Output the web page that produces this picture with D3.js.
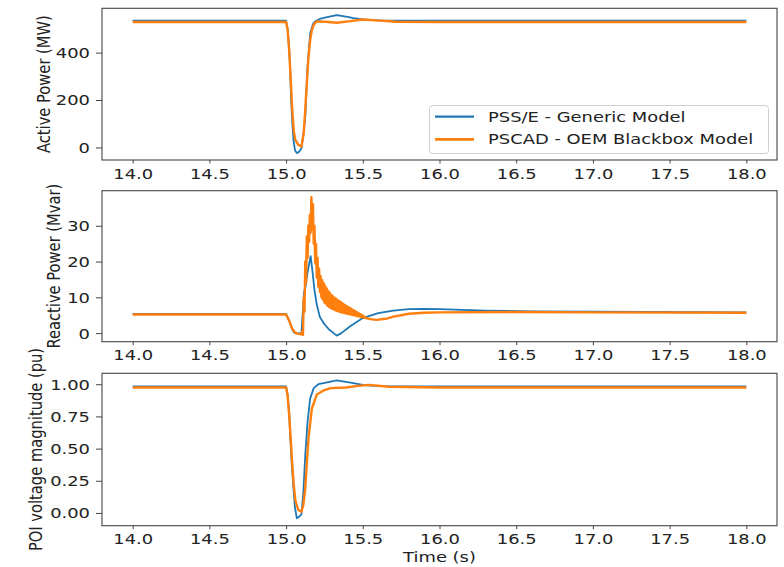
<!DOCTYPE html>
<html>
<head>
<meta charset="utf-8">
<script src="https://cdn.jsdelivr.net/npm/d3@7"></script>
<style>
  body { margin: 0; background: #fff; }
  text { font-family: "DejaVu Sans", sans-serif; fill: #222; }
</style>
</head>
<body>
<svg id="chart" width="784" height="567"></svg>
<script>
// ---------------- DATA ----------------
const seriesNames = ["PSS/E - Generic Model", "PSCAD - OEM Blackbox Model"];
const xTicks = [14.0, 14.5, 15.0, 15.5, 16.0, 16.5, 17.0, 17.5, 18.0];

// Active power (MW)
const pBlueT = [14.0, 15.0, 15.01, 15.02, 15.026, 15.033, 15.04, 15.048, 15.058, 15.07, 15.085, 15.10, 15.112, 15.125, 15.14, 15.157, 15.175, 15.19, 15.22, 15.26, 15.33, 15.4, 15.44, 15.5, 15.6, 15.7, 16.0, 18.0];
const pBlueV = [535, 535, 500, 420, 341, 200, 110, 32, -12, -24, -18, -3, 50, 130, 341, 482, 520, 532, 542, 549, 558, 551, 546, 540, 536, 535, 535, 535];
const pOrgT  = [14.0, 15.0, 15.01, 15.02, 15.03, 15.04, 15.05, 15.06, 15.08, 15.10, 15.115, 15.125, 15.135, 15.146, 15.157, 15.168, 15.18, 15.2, 15.26, 15.33, 15.42, 15.5, 15.61, 15.72, 16.0, 18.0];
const pOrgV  = [529, 529, 495, 410, 290, 160, 70, 32, 11, 4, 61, 160, 271, 380, 453, 495, 517, 532, 530, 526, 533, 540, 535, 530, 529, 529];

// Reactive power (Mvar)
const qBlueT = [14.0, 15.0, 15.02, 15.04, 15.055, 15.08, 15.10, 15.112, 15.118, 15.125, 15.14, 15.16, 15.17, 15.185, 15.2, 15.22, 15.25, 15.28, 15.31, 15.33, 15.36, 15.42, 15.5, 15.6, 15.7, 15.8, 15.9, 16.0, 16.3, 16.6, 17.0, 18.0];
const qBlueV = [5.4, 5.4, 3.5, 1.0, 0.0, -0.1, 0.0, 8.0, 11.6, 12.5, 17.0, 21.5, 18.0, 12.0, 8.0, 4.5, 2.5, 1.0, 0.0, -0.7, 0.0, 2.0, 4.2, 5.6, 6.3, 6.7, 6.8, 6.7, 6.3, 6.1, 6.0, 5.8];
const qOrgT = [14.0, 15.0, 15.02, 15.04, 15.06, 15.08, 15.10, 15.105,
  15.110, 15.115, 15.120, 15.125, 15.130, 15.135, 15.140, 15.145, 15.150, 15.155,
  15.160, 15.165, 15.170, 15.175, 15.180, 15.185, 15.190, 15.195, 15.200, 15.205,
  15.210, 15.215, 15.220, 15.225, 15.230, 15.235, 15.240, 15.245, 15.250, 15.255,
  15.260, 15.265, 15.270, 15.275, 15.280, 15.285, 15.290, 15.295, 15.300, 15.305,
  15.310, 15.315, 15.320, 15.325, 15.330, 15.335, 15.340, 15.345, 15.350, 15.355,
  15.360, 15.365, 15.370, 15.375, 15.380, 15.385, 15.390, 15.395, 15.400, 15.405,
  15.410, 15.415, 15.420, 15.425, 15.430, 15.435, 15.440, 15.445, 15.450, 15.455,
  15.460, 15.465, 15.470, 15.475, 15.480, 15.485, 15.490, 15.495, 15.500, 15.505,
  15.510, 15.515, 15.520, 15.55, 15.59, 15.65, 15.7, 15.8, 15.9, 16.0, 16.5, 17.0, 18.0];
const qOrgV = [5.2, 5.2, 3.5, 1.2, 0.1, -0.2, -0.3, 0.5,
  -0.5, 10, 6, 20, 14, 27, 21, 30, 25.5, 33,
  28, 38, 29, 36, 25, 30, 19.5, 25, 15.5, 21,
  13, 18, 11.5, 16, 10, 14.8, 9.3, 14, 8.5, 13.2,
  8.2, 12.5, 7.6, 11.8, 7.3, 11.2, 7.0, 10.7, 6.8, 10.3,
  6.6, 9.9, 6.4, 9.6, 6.2, 9.3, 6.1, 9.0, 5.9, 8.7,
  5.8, 8.4, 5.7, 8.1, 5.6, 7.8, 5.5, 7.5, 5.4, 7.3,
  5.3, 7.0, 5.2, 6.8, 5.1, 6.5, 5.0, 6.3, 4.9, 6.0,
  4.8, 5.8, 4.7, 5.5, 4.6, 5.3, 4.5, 5.0, 4.4, 4.8,
  4.3, 4.5, 4.2, 3.9, 3.7, 4.0, 4.6, 5.4, 5.7, 5.8, 5.9, 5.8, 5.7];

// POI voltage magnitude (pu)
const vBlueT = [14.0, 15.0, 15.01, 15.02, 15.026, 15.035, 15.048, 15.058, 15.07, 15.085, 15.10, 15.112, 15.125, 15.14, 15.157, 15.18, 15.21, 15.26, 15.33, 15.42, 15.5, 15.6, 16.0, 18.0];
const vBlueV = [0.983, 0.983, 0.92, 0.78, 0.62, 0.42, 0.19, 0.04, -0.041, -0.03, -0.01, 0.15, 0.45, 0.71, 0.89, 0.97, 1.0, 1.012, 1.030, 1.012, 0.995, 0.986, 0.983, 0.983];
const vOrgT  = [14.0, 15.0, 15.01, 15.02, 15.03, 15.04, 15.05, 15.06, 15.08, 15.10, 15.112, 15.125, 15.135, 15.146, 15.168, 15.2, 15.25, 15.29, 15.39, 15.47, 15.54, 15.67, 16.0, 18.0];
const vOrgV  = [0.975, 0.975, 0.91, 0.76, 0.58, 0.38, 0.22, 0.10, 0.023, 0.01, 0.06, 0.19, 0.38, 0.58, 0.81, 0.92, 0.955, 0.97, 0.975, 0.987, 0.995, 0.98, 0.975, 0.975];

const yTicksP = [0, 200, 400];
const yTicksQ = [0, 10, 20, 30];
const yTicksV = [0.00, 0.25, 0.50, 0.75, 1.00];

// ---------------- DRAW ----------------
const colors = ["#1f77b4", "#ff7f0e"];
const widths = [1.8, 2.4];
const SX = 1.28;           // horizontal stretch of the reference text
const svg = d3.select("#chart");
const X0 = 102, X1 = 777;
const x = d3.scaleLinear().domain([13.8, 18.2]).range([X0, X1]);

const panels = [
  { top: 8.3, bot: 160, dom: [-53, 587], ticks: yTicksP, fmt: d3.format("d"),
    label: "Active Power (MW)", lx: 44,
    series: [[pBlueT, pBlueV], [pOrgT, pOrgV]] },
  { top: 190.7, bot: 341.7, dom: [-2.4, 39.8], ticks: yTicksQ, fmt: d3.format("d"),
    label: "Reactive Power (Mvar)", lx: 54,
    series: [[qBlueT, qBlueV], [qOrgT, qOrgV]] },
  { top: 373.3, bot: 525.7, dom: [-0.099, 1.085], ticks: yTicksV, fmt: d3.format(".2f"),
    label: "POI voltage magnitude (pu)", lx: 36,
    series: [[vBlueT, vBlueV], [vOrgT, vOrgV]] }
];

panels.forEach((p, pi) => {
  const y = d3.scaleLinear().domain(p.dom).range([p.bot, p.top]);
  const g = svg.append("g");

  // lines
  p.series.forEach((s, si) => {
    const pts = s[0].map((t, i) => [t, s[1][i]]);
    g.append("path")
      .datum(pts)
      .attr("fill", "none")
      .attr("stroke", colors[si])
      .attr("stroke-width", widths[si])
      .attr("stroke-linejoin", "round")
      .attr("d", d3.line().x(d => x(d[0])).y(d => y(d[1])));
  });

  // frame
  g.append("rect")
    .attr("x", X0).attr("y", p.top)
    .attr("width", X1 - X0).attr("height", p.bot - p.top)
    .attr("fill", "none").attr("stroke", "#444").attr("stroke-width", 1.1);

  // x axis
  const xa = g.append("g").attr("transform", `translate(0,${p.bot})`)
    .call(d3.axisBottom(x).tickValues(xTicks).tickSize(3.5).tickFormat(d3.format(".1f")));
  xa.select(".domain").remove();
  xa.selectAll("line").attr("stroke", "#444");
  xa.selectAll("text")
    .attr("y", 0).attr("dy", 0)
    .attr("transform", `translate(0,18.5) scale(${SX},1)`)
    .style("font-size", "14px").style("font-family", "DejaVu Sans").attr("fill", "#222");

  // y axis
  const ya = g.append("g").attr("transform", `translate(${X0},0)`)
    .call(d3.axisLeft(y).tickValues(p.ticks).tickSize(6).tickFormat(p.fmt));
  ya.select(".domain").remove();
  ya.selectAll("line").attr("stroke", "#444");
  ya.selectAll("text")
    .attr("x", 0).attr("dy", "0.35em")
    .attr("transform", `translate(-12,0) scale(${SX},1)`)
    .style("font-size", "14px").style("font-family", "DejaVu Sans").attr("fill", "#222");

  // y label
  svg.append("text")
    .attr("transform", `translate(${p.lx},${(p.top + p.bot) / 2}) rotate(-90) scale(1,1.15)`)
    .attr("text-anchor", "middle").attr("dy", "0.35em")
    .style("font-size", "14.7px")
    .text(p.label);
});

// x label
svg.append("text")
  .attr("transform", `translate(${(X0 + X1) / 2},561.7) scale(${SX},1)`)
  .attr("text-anchor", "middle")
  .style("font-size", "14px")
  .text("Time (s)");

// legend
const lg = svg.append("g");
lg.append("rect")
  .attr("x", 429.5).attr("y", 105.5).attr("width", 339).attr("height", 48).attr("rx", 3)
  .attr("fill", "#fff").attr("fill-opacity", 0.8).attr("stroke", "#d0d0d0");
const legY = [116.7, 139.3];
seriesNames.forEach((name, i) => {
  lg.append("line")
    .attr("x1", 435).attr("x2", 474).attr("y1", legY[i]).attr("y2", legY[i])
    .attr("stroke", colors[i]).attr("stroke-width", widths[i] + 0.4);
  lg.append("text")
    .attr("transform", `translate(488,${legY[i]}) scale(${SX},1)`)
    .attr("dy", "0.35em")
    .style("font-size", "14px")
    .text(name);
});
</script>
</body>
</html>
